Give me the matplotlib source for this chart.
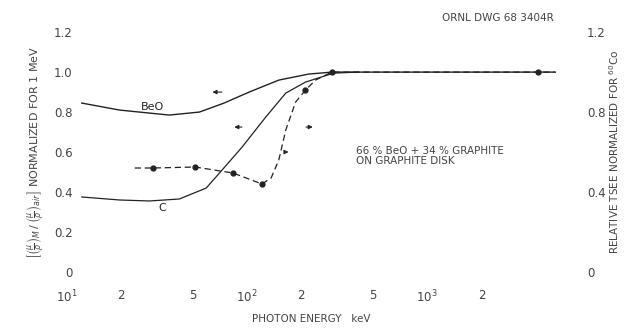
import matplotlib.pyplot as plt
from matplotlib.ticker import FixedLocator, NullLocator

# photon energy (keV) and normalized values
beo_energy = [12.1, 19.6, 37.0, 54.4, 74.5, 102.7, 150, 219, 295, 5300]
beo_value = [0.845, 0.81, 0.785, 0.80, 0.845, 0.90, 0.96, 0.99, 1.0, 1.0]

c_energy = [12.1, 19.6, 28.7, 42.1, 59.4, 72.7, 93.9, 127, 164, 211, 302, 416]
c_value = [0.375, 0.36, 0.355, 0.365, 0.42, 0.51, 0.625, 0.775, 0.895, 0.95, 0.995, 1.0]

tsee_energy = [23.8, 29.9, 51.6, 83.6, 121, 136, 150, 164, 186, 211, 240, 295, 4100, 5100]
tsee_value = [0.52, 0.52, 0.525, 0.495, 0.44, 0.47, 0.56, 0.71, 0.85, 0.91, 0.96, 1.0, 1.0, 1.0]

tsee_pt_energy = [29.9, 51.6, 83.6, 121, 211, 295, 4100]
tsee_pt_value = [0.52, 0.525, 0.495, 0.44, 0.91, 1.0, 1.0]

x_ticks = [10, 20, 50, 100, 200, 500, 1000, 2000]
x_ticklabels = ["$10^1$", "2", "5", "$10^2$", "2", "5", "$10^3$", "2"]
left_ticks = [0, 0.2, 0.4, 0.6, 0.8, 1.0, 1.2]
left_ticklabels = ["0", "0.2", "0.4", "0.6", "0.8", "1.0", "1.2"]
right_ticks = [0, 0.4, 0.8, 1.2]
right_ticklabels = ["0", "0.4", "0.8", "1.2"]

ink = "#222222"
txt = "#444444"

fig = plt.figure(figsize=(6.25, 3.28), dpi=100)
ax = fig.add_axes([0.107, 0.171, 0.783, 0.731])
ax.set_xscale("log")
ax.set_xlim(10, 5200)
ax.set_ylim(0, 1.2)

ax.plot(beo_energy, beo_value, color=ink, lw=1.0)
ax.plot(c_energy, c_value, color=ink, lw=0.9)
ax.plot(tsee_energy, tsee_value, color=ink, lw=0.9, dashes=(5, 3))
ax.plot(tsee_pt_energy, tsee_pt_value, "o", color=ink, ms=3.5)

for s in ax.spines.values():
    s.set_visible(False)

ax.xaxis.set_major_locator(FixedLocator(x_ticks))
ax.xaxis.set_minor_locator(NullLocator())
ax.set_xticklabels(x_ticklabels)
ax.set_yticks(left_ticks)
ax.set_yticklabels(left_ticklabels)
ax.tick_params(axis="both", length=0, labelsize=8.5, labelcolor=txt)
ax.tick_params(axis="x", pad=12)
ax.tick_params(axis="y", pad=-4)

ax2 = ax.twinx()
ax2.set_ylim(0, 1.2)
ax2.set_yticks(right_ticks)
ax2.set_yticklabels(right_ticklabels)
ax2.tick_params(axis="y", length=0, labelsize=8.5, labelcolor=txt, pad=22)
for s in ax2.spines.values():
    s.set_visible(False)

ax.set_xlabel("PHOTON ENERGY   keV", fontsize=7.5, color=txt, labelpad=6)
ax.set_ylabel(r"$\left[\left(\frac{\mu}{\rho}\right)_{M}\,/\,\left(\frac{\mu}{\rho}\right)_{air}\right]$"
              " NORMALIZED FOR 1 MeV", fontsize=8, color=txt, labelpad=5)
ax2.set_ylabel("RELATIVE TSEE NORMALIZED FOR $^{60}$Co", fontsize=7.5, color=txt, labelpad=1)

# curve labels and axis-pointer arrows
ax.text(30, 0.80, "BeO", fontsize=8, color=ink, ha="center", va="bottom")
ax.text(34, 0.345, "C", fontsize=8, color=ink, ha="center", va="top")
ax.text(400, 0.58, "66 % BeO + 34 % GRAPHITE\nON GRAPHITE DISK", fontsize=7.5,
        color=txt, ha="left", va="center", linespacing=1.1)
ax.text(0.995, 1.04, "ORNL DWG 68 3404R", transform=ax.transAxes, fontsize=7.5,
        color=txt, ha="right", va="bottom")

arrow = dict(arrowstyle="-|>", color=ink, lw=0.8, mutation_scale=6)
ax.annotate("", xy=(62, 0.90), xytext=(75, 0.90), arrowprops=arrow)
ax.annotate("", xy=(82, 0.725), xytext=(97, 0.725), arrowprops=arrow)
ax.annotate("", xy=(240, 0.725), xytext=(205, 0.725), arrowprops=arrow)
ax.annotate("", xy=(176, 0.60), xytext=(156, 0.60), arrowprops=arrow)

fig.savefig("out.png", dpi=100)
